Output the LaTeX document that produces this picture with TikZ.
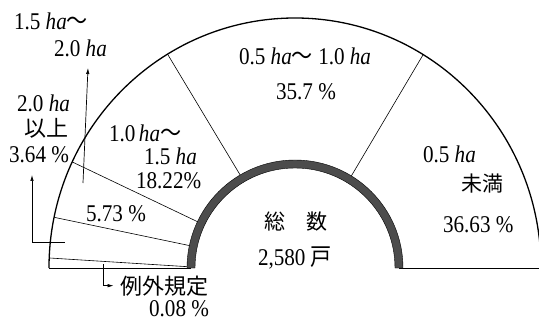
\documentclass[tikz,border=0pt]{standalone}
\usepackage{fontspec}
\setmainfont{Liberation Serif}
\newfontfamily\cjk{Noto Sans CJK JP}
\usetikzlibrary{arrows.meta}
\newcommand{\haunit}{\textit{ha}}
\newcommand{\kara}{{\cjk 〜}}

\begin{document}
\begin{tikzpicture}[x=1pt, y=1pt,
		lbl/.style={inner sep=1pt, font=\fontsize{24}{26}\selectfont},
		num/.style={lbl, xscale=0.88},
		lead/.style={line width=0.7pt, -{Latex[length=6pt, width=3.5pt]}}]
			\useasboundingbox (-295,-59) rectangle (244,268);
			\clip (-295,-59) rectangle (244,268);
			\draw[line width=1.3pt] (180:246 and 250) arc[start angle=180, end angle=0, x radius=246, y radius=250];
			\draw[line width=0.8pt] (180:246 and 250) -- (180:104);
			\draw[line width=0.8pt] (0:104) -- (0:246 and 250);
			\foreach \a/\b in {179.4/177.7, 168/168.3, 154.6/154.9, 120.5/121.2, 58.5/58.6} {
				\draw[line width=0.6pt] (\a:104) -- (\b:246 and 250);
			};
			\draw[fill=black!70] (0:108) arc[start angle=0, end angle=180, radius=108] -- (180:100) arc[start angle=180, end angle=0, radius=100] -- cycle;
			\node[num, anchor=base west] (r15a) at (-282,238) {1.5 \haunit\kara};
			\node[num, anchor=base west] (r15b) at (-242,211) {2.0 \haunit};
			\node[num, anchor=base east] (r20a) at (-224,156) {2.0 \haunit};
			\node[lbl, anchor=base east, font=\fontsize{22}{24}\selectfont] (r20b) at (-225,131) {\cjk 以上};
			\node[num, anchor=base east] (r20c) at (-225,106) {3.64 \%};
			\node[num, anchor=base west] (r10a) at (-187,126) {1.0\,\haunit\kara};
			\node[num, anchor=base west] (r10b) at (-152,103) {1.5 \haunit};
			\node[num, anchor=base west] (r10c) at (-160,80) {18.22\%};
			\node[num, anchor=base west] (r15c) at (-210,46) {5.73 \%};
			\node[lbl, anchor=base east, font=\fontsize{22}{24}\selectfont] (exa) at (-85,-26) {\cjk 例外規定};
			\node[num, anchor=base east] (exb) at (-85,-48) {0.08 \%};
			\node[num, anchor=base west] (r05a) at (-57,203) {0.5 \haunit\kara\ 1.0 \haunit};
			\node[num, anchor=base west] (r05b) at (-20,168) {35.7 \%};
			\node[num, anchor=base west] (r00a) at (127,106) {0.5 \haunit};
			\node[lbl, anchor=base west, font=\fontsize{21}{23}\selectfont] (r00b) at (165,76) {\cjk 未満};
			\node[num, anchor=base west] (r00c) at (147,36) {36.63 \%};
			\node[lbl, anchor=base, font=\fontsize{21}{23}\selectfont] (tota) at (1,38) {\cjk 総　数};
			\node[num, anchor=base] (totb) at (0,2) {2,580 {\cjk 戸}};
			\coordinate (s15) at (-212,85);
			\coordinate (t15) at (-207,200);
			\coordinate (s20) at (-230,26);
			\coordinate (t20) at (-263,93);
			\coordinate (s00) at (-192,4);
			\draw[lead] (s15) -- (t15);
			\draw[lead] (s20) -| (t20);
			\draw[lead] (s00) |- ([xshift=-6pt]exa.west);
		\end{tikzpicture}
\end{document}
